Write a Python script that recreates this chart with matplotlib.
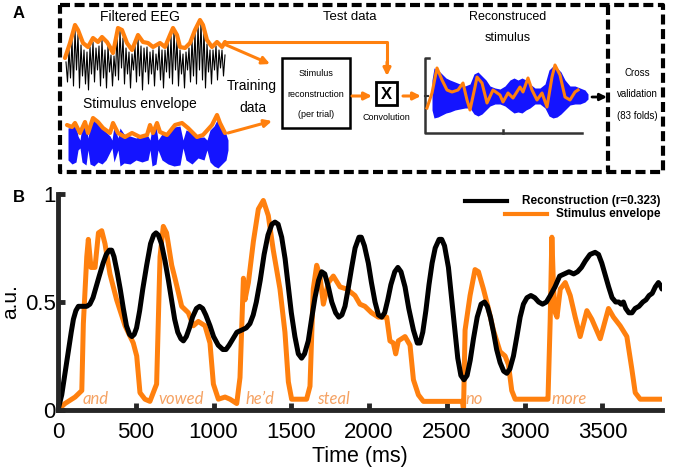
import matplotlib
matplotlib.use('Agg')
import matplotlib.pyplot as plt
import matplotlib.patches as patches

plt.rcParams['font.family'] = ['Liberation Sans', 'DejaVu Sans']

ORANGE = '#FF800E'
BLUE = '#1414FF'
DARK = '#262626'

# ---------- panel B data (time in ms, value in a.u.) ----------
rec_t = [0, 24, 45, 66, 85, 99, 115, 131, 160, 185, 205, 225, 245, 265, 290, 310, 330, 345, 360, 380,
         400, 420, 440, 460, 475, 490, 505, 525, 545, 570, 595, 615, 630, 645, 665, 688, 710, 730, 750, 770,
         790, 806, 825, 845, 865, 890, 910, 930, 950, 977, 1000, 1030, 1060, 1080, 1100, 1125, 1150, 1181, 1210, 1234,
         1255, 1275, 1300, 1325, 1350, 1375, 1395, 1415, 1438, 1460, 1481, 1500, 1523, 1545, 1566, 1585, 1609, 1630, 1652, 1675,
         1695, 1715, 1738, 1760, 1785, 1805, 1825, 1845, 1865, 1888, 1910, 1935, 1950, 1970, 1995, 2015, 2038, 2060, 2081, 2100,
         2120, 2140, 2165, 2185, 2205, 2231, 2255, 2285, 2310, 2327, 2345, 2365, 2385, 2405, 2425, 2450, 2467, 2485, 2510, 2530,
         2553, 2570, 2590, 2610, 2630, 2650, 2671, 2695, 2720, 2742, 2760, 2780, 2800, 2820, 2842, 2865, 2885, 2905, 2928, 2950,
         2971, 2992, 3015, 3040, 3065, 3090, 3115, 3140, 3165, 3195, 3225, 3255, 3285, 3315, 3340, 3365, 3390, 3420, 3453, 3475,
         3496, 3520, 3540, 3562, 3585, 3605, 3620, 3635, 3650, 3670, 3690, 3710, 3735, 3760, 3780, 3800, 3820, 3840, 3860, 3870,
         3883]
rec_v = [0.0, 0.07, 0.17, 0.27, 0.36, 0.42, 0.46, 0.48, 0.48, 0.48, 0.49, 0.52, 0.57, 0.62, 0.68, 0.72, 0.74, 0.74, 0.71, 0.64,
         0.56, 0.47, 0.39, 0.35, 0.34, 0.35, 0.38, 0.46, 0.56, 0.67, 0.77, 0.81, 0.82, 0.81, 0.77, 0.69, 0.60, 0.51, 0.42, 0.36,
         0.33, 0.32, 0.34, 0.38, 0.43, 0.47, 0.48, 0.47, 0.44, 0.39, 0.34, 0.30, 0.28, 0.28, 0.30, 0.33, 0.36, 0.37, 0.38, 0.40,
         0.44, 0.50, 0.60, 0.72, 0.81, 0.86, 0.87, 0.86, 0.80, 0.70, 0.57, 0.45, 0.34, 0.26, 0.24, 0.26, 0.32, 0.42, 0.52, 0.60,
         0.64, 0.63, 0.57, 0.50, 0.45, 0.43, 0.44, 0.48, 0.56, 0.66, 0.75, 0.80, 0.80, 0.76, 0.68, 0.59, 0.50, 0.44, 0.43, 0.45,
         0.51, 0.58, 0.64, 0.66, 0.64, 0.57, 0.47, 0.37, 0.31, 0.31, 0.36, 0.46, 0.58, 0.68, 0.75, 0.79, 0.79, 0.76, 0.66, 0.52,
         0.36, 0.24, 0.16, 0.14, 0.16, 0.23, 0.33, 0.43, 0.49, 0.50, 0.48, 0.43, 0.36, 0.28, 0.22, 0.18, 0.17, 0.19, 0.25, 0.34,
         0.43, 0.49, 0.52, 0.53, 0.52, 0.50, 0.49, 0.50, 0.53, 0.57, 0.62, 0.63, 0.64, 0.63, 0.64, 0.66, 0.69, 0.72, 0.73, 0.72,
         0.68, 0.62, 0.57, 0.52, 0.50, 0.50, 0.49, 0.50, 0.47, 0.45, 0.45, 0.47, 0.48, 0.50, 0.51, 0.53, 0.54, 0.57, 0.59, 0.58,
         0.56]

env_t = [0, 45, 110, 153, 163, 185, 195, 212, 238, 260, 281, 302, 334, 377, 431, 484, 506, 527, 559, 591,
         623, 634, 656, 677, 698, 731, 752, 795, 838, 870, 902, 945, 977, 999, 1031, 1074, 1106, 1149, 1170, 1192,
         1202, 1224, 1256, 1288, 1320, 1352, 1384, 1427, 1459, 1481, 1502, 1545, 1598, 1620, 1641, 1663, 1684, 1706, 1738, 1770,
         1813, 1856, 1909, 1941, 1973, 2016, 2059, 2113, 2134, 2156, 2171, 2188, 2231, 2263, 2285, 2317, 2349, 2467, 2585, 2600,
         2607, 2617, 2649, 2681, 2703, 2735, 2767, 2799, 2842, 2874, 2896, 2917, 2939, 3025, 3132, 3150, 3164, 3175, 3186, 3197,
         3208, 3229, 3261, 3293, 3325, 3357, 3400, 3432, 3486, 3539, 3571, 3614, 3657, 3689, 3711, 3743, 3839, 3883]
env_v = [0.0, 0.03, 0.06, 0.09, 0.40, 0.71, 0.79, 0.66, 0.66, 0.82, 0.83, 0.77, 0.63, 0.51, 0.39, 0.31, 0.25, 0.08, 0.05, 0.04,
         0.10, 0.12, 0.71, 0.85, 0.82, 0.67, 0.61, 0.48, 0.45, 0.39, 0.41, 0.39, 0.31, 0.12, 0.05, 0.06, 0.05, 0.03, 0.15, 0.61,
         0.51, 0.59, 0.78, 0.93, 0.97, 0.90, 0.74, 0.56, 0.36, 0.13, 0.05, 0.05, 0.05, 0.11, 0.56, 0.67, 0.62, 0.49, 0.59, 0.62,
         0.57, 0.56, 0.53, 0.49, 0.48, 0.45, 0.43, 0.43, 0.32, 0.31, 0.26, 0.32, 0.34, 0.30, 0.14, 0.07, 0.04, 0.04, 0.04, 0.04,
         0.0, 0.37, 0.53, 0.65, 0.64, 0.56, 0.47, 0.37, 0.27, 0.25, 0.21, 0.09, 0.05, 0.05, 0.05, 0.05, 0.41, 0.80, 0.56, 0.45,
         0.43, 0.56, 0.59, 0.53, 0.43, 0.34, 0.46, 0.42, 0.33, 0.47, 0.43, 0.39, 0.34, 0.19, 0.08, 0.05, 0.05, 0.05]

words = ['and', 'vowed', 'he\u2019d', 'steal', 'no', 'more']
word_t = [160, 645, 1205, 1665, 2620, 3170]

x_ticks = [0, 500, 1000, 1500, 2000, 2500, 3000, 3500]
y_ticks = [0, 0.5, 1]
y_ticklabels = ['0', '0.5', '1']

# ---------- panel A schematic traces (figure pixel coordinates) ----------
eeg_y = [62, 82, 50, 78, 40, 86, 30, 70, 34, 88, 45, 76, 50, 84, 52, 90, 47, 74, 42, 82,
         48, 70, 46, 86, 40, 78, 50, 88, 46, 72, 55, 86, 56, 76, 34, 80, 31, 68, 38, 84,
         48, 74, 52, 88, 54, 70, 46, 82, 38, 76, 46, 90, 48, 72, 47, 84, 52, 74, 50, 86,
         54, 70, 46, 80, 50, 88, 50, 72, 42, 78, 36, 84, 30, 70, 40, 86, 50, 74, 54, 88,
         52, 70, 48, 82, 40, 76, 32, 84, 24, 70, 22, 80, 30, 88, 44, 72, 50, 84, 50, 70,
         46, 80, 50, 68, 50, 76, 55]
eeg_x = [66 + 1.5 * i for i in range(len(eeg_y))]
eeg_env_x = [65, 70, 75, 78, 83, 88, 93, 98, 102, 107, 110, 113, 118, 122, 127, 132, 138, 143, 148, 153,
             160, 165, 170, 173, 177, 180, 185, 190, 195, 200, 203, 207, 212, 217, 222, 225]
eeg_env_y = [58, 43, 25, 30, 43, 47, 38, 42, 37, 42, 47, 53, 28, 30, 43, 50, 35, 42, 43, 47,
             43, 47, 35, 28, 35, 47, 48, 43, 30, 20, 25, 40, 47, 42, 47, 42]

stim_x = [68, 72, 76, 78, 80, 82, 86, 88, 90, 94, 98, 102, 106, 110, 112, 114, 118, 120, 124, 130,
          136, 142, 148, 150, 152, 156, 158, 162, 168, 174, 180, 183, 186, 192, 198, 204, 207, 210, 214, 218,
          222, 226, 228]
stim_top = [128, 127, 126, 136, 140, 126, 124, 138, 126, 120, 123, 128, 132, 136, 140, 126, 138, 128, 134, 136,
            138, 136, 136, 140, 128, 126, 140, 134, 132, 127, 126, 140, 130, 132, 137, 137, 140, 130, 126, 118,
            125, 134, 140]
stim_bot = [160, 164, 162, 150, 148, 162, 165, 150, 164, 166, 162, 164, 160, 152, 148, 162, 150, 166, 163, 164,
            160, 162, 160, 150, 166, 164, 150, 160, 164, 166, 165, 148, 160, 164, 158, 160, 150, 162, 166, 168,
            164, 160, 150]
stim_env_x = [67, 72, 75, 80, 85, 88, 93, 98, 103, 110, 113, 118, 125, 132, 140, 147, 150, 153, 157, 160,
              167, 175, 182, 188, 197, 203, 212, 217, 220, 225]
stim_env_y = [125, 127, 123, 133, 122, 133, 118, 122, 128, 133, 123, 133, 137, 133, 137, 135, 125, 133, 123, 132,
              135, 125, 123, 128, 137, 135, 125, 115, 123, 133]

rec_x = [432, 434, 438, 442, 446, 450, 455, 460, 465, 470, 474, 478, 482, 486, 490, 495, 500, 505, 510, 514,
         518, 522, 526, 530, 535, 540, 545, 549, 553, 557, 561, 565, 570, 575, 580, 585, 588]
rec_top = [80, 68, 70, 74, 78, 80, 82, 84, 86, 84, 74, 72, 76, 80, 86, 88, 89, 86, 80, 78,
           80, 78, 80, 84, 88, 88, 84, 70, 66, 68, 72, 80, 86, 86, 88, 90, 94]
rec_bot = [110, 118, 117, 115, 113, 112, 110, 109, 108, 108, 114, 116, 114, 110, 106, 104, 104, 106, 110, 113,
           112, 113, 110, 108, 104, 104, 108, 116, 118, 117, 114, 110, 105, 104, 104, 102, 99]
recon_line_x = [427, 432, 437, 442, 447, 452, 458, 463, 467, 470, 475, 477, 482, 487, 493, 500, 503, 508, 513, 520,
                523, 528, 532, 537, 542, 547, 552, 555, 560, 565, 570, 575, 578]
recon_line_y = [108, 93, 68, 80, 90, 92, 90, 83, 100, 110, 87, 77, 83, 103, 90, 95, 102, 93, 98, 87,
                92, 78, 90, 100, 93, 107, 77, 65, 75, 97, 100, 92, 90]

fig = plt.figure(figsize=(6.75, 4.74), dpi=100)

# background axes in pixel coordinates for panel A
bg = fig.add_axes([0, 0, 1, 1])
bg.set_xlim(0, 675)
bg.set_ylim(474, 0)
bg.axis('off')

bg.text(13, 13, 'A', fontsize=12, fontweight='bold', va='center')
bg.text(13, 198, 'B', fontsize=12, fontweight='bold', va='center')

# dashed frames
dash = dict(color='black', lw=3, linestyle=(0, (2.4, 1.1)))
bg.plot([60, 663, 663, 60, 60], [5, 5, 172, 172, 5], **dash)
bg.plot([608, 608], [5, 172], **dash)

# filtered EEG
bg.plot(eeg_x, eeg_y, color='black', lw=0.8)
bg.plot(eeg_env_x, eeg_env_y, color=ORANGE, lw=3, solid_capstyle='round', solid_joinstyle='round')
bg.text(140, 17, 'Filtered EEG', fontsize=10, ha='center', va='center')

# stimulus envelope
bg.fill_between(stim_x, stim_top, stim_bot, color=BLUE, lw=0)
bg.plot(stim_env_x, stim_env_y, color=ORANGE, lw=3, solid_capstyle='round', solid_joinstyle='round')
bg.text(140, 104, 'Stimulus envelope', fontsize=10, ha='center', va='center')

bg.text(252, 86, 'Training', fontsize=10, ha='center', va='center')
bg.text(253, 108, 'data', fontsize=10, ha='center', va='center')
bg.text(350, 17, 'Test data', fontsize=9.5, ha='center', va='center')

# arrows
arr = dict(arrowstyle='-|>', color=ORANGE, lw=2.2, mutation_scale=11, shrinkA=0, shrinkB=0)
bg.plot([224, 387, 387], [41.5, 41.5, 66], color=ORANGE, lw=2.2)
bg.annotate('', xy=(387, 76), xytext=(387, 62), arrowprops=arr)
bg.annotate('', xy=(270, 64), xytext=(224, 44), arrowprops=arr)
bg.annotate('', xy=(272, 121), xytext=(228, 133), arrowprops=arr)
bg.annotate('', xy=(372, 96), xytext=(352, 96), arrowprops=arr)
bg.annotate('', xy=(421, 96), xytext=(403, 96), arrowprops=arr)
bg.annotate('', xy=(607, 97), xytext=(592, 97),
            arrowprops=dict(arrowstyle='-|>', color='black', lw=2, mutation_scale=10, shrinkA=0, shrinkB=0))

# stimulus reconstruction box
bg.add_patch(patches.Rectangle((282, 58), 68, 70, fill=False, edgecolor='black', lw=1.8))
for yy, s in zip([73, 94, 114], ['Stimulus', 'reconstruction', '(per trial)']):
    bg.text(316, yy, s, fontsize=6.5, ha='center', va='center')

# convolution box
bg.add_patch(patches.Rectangle((376, 82), 21, 23, fill=False, edgecolor='black', lw=2))
bg.text(386.5, 94, 'X', fontsize=12, fontweight='bold', ha='center', va='center')
bg.text(386, 117, 'Convolution', fontsize=6.5, ha='center', va='center')

# reconstructed stimulus mini plot
bg.text(508, 17, 'Reconstruced', fontsize=9, ha='center', va='center')
bg.text(508, 38, 'stimulus', fontsize=9, ha='center', va='center')
bg.plot([429, 425, 425, 582], [58, 58, 133, 133], color='#333333', lw=1.8)
bg.plot([425, 428], [96, 96], color='#333333', lw=1.5)
bg.plot([503, 503], [133, 130], color='#333333', lw=1.8)
bg.fill_between(rec_x, rec_top, rec_bot, color=BLUE, lw=0)
bg.plot(recon_line_x, recon_line_y, color=ORANGE, lw=2.2)

for yy, s in zip([73, 94, 116], ['Cross', 'validation', '(83 folds)']):
    bg.text(637, yy, s, fontsize=7, ha='center', va='center')

# legend for panel B, drawn in pixel space
bg.plot([465, 507], [201, 201], color='black', lw=3)
bg.text(660, 201, 'Reconstruction (r=0.323)', fontsize=8.5, fontweight='bold', ha='right', va='center')
bg.plot([505, 547], [214, 214], color=ORANGE, lw=3)
bg.text(660, 214, 'Stimulus envelope', fontsize=8.5, fontweight='bold', ha='right', va='center')

# ---------- panel B ----------
ax = fig.add_axes([58 / 675, 1 - 410 / 474, (662 - 58) / 675, (410 - 194) / 474])
ax.patch.set_alpha(0)
ax.plot(env_t, env_v, color=ORANGE, lw=3.6, solid_joinstyle='round')
ax.plot(rec_t, rec_v, color='black', lw=3.6, solid_joinstyle='round', solid_capstyle='round')
for w, t in zip(words, word_t):
    ax.text(t, 0.012, w, fontsize=12, style='italic', family=['Lato', 'DejaVu Sans'],
            color='#F5A263', va='bottom', ha='left')

ax.set_xlim(0, 3883)
ax.set_ylim(0, 1)
ax.set_xticks(x_ticks)
ax.set_yticks(y_ticks)
ax.set_yticklabels(y_ticklabels)
for s in ['top', 'right']:
    ax.spines[s].set_visible(False)
for s in ['left', 'bottom']:
    ax.spines[s].set_linewidth(3.5)
    ax.spines[s].set_color(DARK)
ax.tick_params(direction='in', length=5, width=3.5, color=DARK, labelsize=16)
ax.tick_params(axis='x', pad=9)
ax.tick_params(axis='y', pad=1.5)
ax.set_xlabel('Time (ms)', fontsize=15.5, labelpad=2)
ax.set_ylabel('a.u.', fontsize=15)
ax.yaxis.set_label_coords(-0.062, 0.5)

fig.savefig('out.png', dpi=100)
